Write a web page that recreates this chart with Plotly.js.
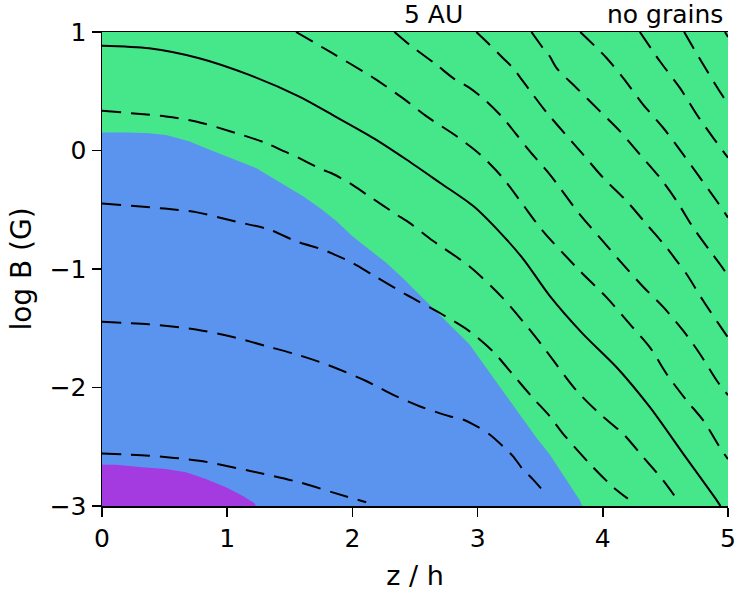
<!DOCTYPE html>
<html><head><meta charset="utf-8">
<script src="https://cdn.plot.ly/plotly-3.0.1.min.js"></script>
<style>html,body{margin:0;padding:0;background:#fff}</style>
</head><body>
<div id="chart" style="width:748px;height:594px"></div>
<script>
// ---- data ----
const xTicks = [0, 1, 2, 3, 4, 5];
const yTicks = [-3, -2, -1, 0, 1];

// regions (boundary, closed along the lower axis)
const blueX = [0, 0.2, 0.376, 0.51, 0.6, 0.7, 0.83, 0.966, 1.1, 1.234, 1.336, 1.47, 1.606, 1.74, 1.874, 2.0, 2.136, 2.27, 2.402, 2.536, 2.67, 2.802, 2.936, 3.07, 3.202, 3.336, 3.47, 3.576, 3.70, 3.816, 3.835, 0];
const blueY = [0.152, 0.152, 0.145, 0.13, 0.105, 0.075, 0.02, -0.035, -0.09, -0.15, -0.215, -0.303, -0.387, -0.485, -0.597, -0.724, -0.836, -0.948, -1.077, -1.217, -1.358, -1.498, -1.638, -1.835, -2.032, -2.228, -2.425, -2.565, -2.77, -2.952, -3.0, -3.0];
const purpleX = [0, 0.11, 0.32, 0.51, 0.67, 0.83, 0.99, 1.122, 1.216, 1.23, 0];
const purpleY = [-2.652, -2.652, -2.674, -2.688, -2.716, -2.773, -2.842, -2.913, -2.975, -3.0, -3.0];

// solid contour
const solidX = [0, 0.376, 0.776, 1.176, 1.576, 1.84, 2.168, 2.434, 2.702, 2.968, 3.182, 3.368, 3.576, 3.843, 4.11, 4.376, 4.643, 4.91, 4.94];
const solidY = [0.885, 0.863, 0.779, 0.638, 0.455, 0.301, 0.105, -0.078, -0.274, -0.471, -0.695, -0.92, -1.226, -1.549, -1.829, -2.166, -2.56, -2.952, -3.0];

// dashed contours starting at the left edge
const l1X = [0, 0.376, 0.776, 1.176, 1.576, 1.842, 2.11];
const l1Y = [-2.556, -2.576, -2.618, -2.703, -2.80, -2.885, -2.969];
const l2X = [0, 0.376, 0.75, 1.07, 1.31, 1.55, 1.79, 2.11, 2.322, 2.536, 2.776, 2.882, 2.99, 3.096, 3.202, 3.282, 3.362, 3.442, 3.536];
const l2Y = [-1.446, -1.467, -1.51, -1.58, -1.65, -1.72, -1.804, -1.945, -2.06, -2.158, -2.242, -2.27, -2.326, -2.396, -2.495, -2.579, -2.691, -2.775, -2.888];
const l3X = [0, 0.5, 0.75, 1.07, 1.336, 1.55, 1.762, 1.856, 2.0, 2.162, 2.43, 2.722, 2.936, 3.122, 3.282, 3.442, 3.576, 3.683, 3.896, 4.082, 4.2];
const l3Y = [-0.448, -0.49, -0.52, -0.60, -0.667, -0.766, -0.836, -0.878, -0.948, -1.049, -1.217, -1.386, -1.526, -1.695, -1.891, -2.088, -2.242, -2.391, -2.644, -2.84, -2.938];
const l4X = [0, 0.51, 0.75, 1.07, 1.31, 1.456, 1.52, 1.762, 1.83, 1.976, 2.136, 2.35, 2.456, 2.643, 2.936, 3.202, 3.47, 3.79, 3.976, 4.162, 4.322, 4.482, 4.59];
const l4Y = [0.335, 0.287, 0.245, 0.147, 0.063, -0.008, -0.036, -0.162, -0.19, -0.274, -0.387, -0.539, -0.611, -0.762, -0.979, -1.246, -1.583, -2.026, -2.223, -2.391, -2.587, -2.784, -2.94];

// dashed contours starting at the top edge
const t1X = [1.55, 1.84, 2.11, 2.19, 2.40, 2.59, 2.83, 3.02, 3.2, 3.36, 3.52, 3.816, 4.03, 4.216, 4.376, 4.51, 4.67, 4.802, 4.95, 5.0];
const t1Y = [1.0, 0.821, 0.652, 0.598, 0.444, 0.29, 0.122, -0.033, -0.229, -0.454, -0.678, -1.015, -1.24, -1.465, -1.661, -1.886, -2.11, -2.278, -2.531, -2.604];
const t2X = [2.336, 2.456, 2.67, 2.802, 2.936, 3.07, 3.202, 3.31, 3.416, 3.576, 3.816, 3.976, 4.136, 4.322, 4.482, 4.642, 4.776, 4.91, 5.0];
const t2Y = [1.0, 0.893, 0.725, 0.613, 0.528, 0.416, 0.276, 0.135, -0.005, -0.202, -0.539, -0.735, -0.931, -1.15, -1.32, -1.52, -1.717, -1.941, -2.065];
const t3X = [2.99, 3.096, 3.202, 3.282, 3.362, 3.442, 3.522, 3.576, 3.656, 3.842, 4.002, 4.19, 4.35, 4.51, 4.59, 4.67, 4.802, 4.962, 5.0];
const t3Y = [1.0, 0.893, 0.781, 0.697, 0.585, 0.472, 0.36, 0.29, 0.192, -0.033, -0.229, -0.426, -0.623, -0.819, -0.931, -1.044, -1.268, -1.52, -1.577];
const t4X = [3.43, 3.522, 3.576, 3.63, 3.79, 3.976, 4.136, 4.296, 4.456, 4.59, 4.722, 4.856, 4.936, 5.0];
const t4Y = [1.0, 0.865, 0.795, 0.697, 0.528, 0.332, 0.164, -0.033, -0.229, -0.426, -0.651, -0.847, -0.96, -1.055];
const t5X = [3.82, 4.03, 4.162, 4.322, 4.482, 4.642, 4.776, 4.91, 5.0];
const t5Y = [1.0, 0.781, 0.613, 0.388, 0.192, -0.033, -0.229, -0.426, -0.566];
const t6X = [4.296, 4.456, 4.616, 4.75, 4.882, 5.0];
const t6Y = [1.0, 0.753, 0.528, 0.304, 0.107, -0.061];
const t7X = [4.65, 4.802, 4.95, 5.0];
const t7Y = [1.0, 0.725, 0.472, 0.394];
const t8X = [4.976, 5.0];
const t8Y = [1.0, 0.958];

const labelDist = "5 AU";
const labelCase = "no grains";
const xTitle = "z / h";
const yTitle = "log B (G)";

// ---- styles ----
const GREEN = "#46E68A";
const BLUE = "#5A94EE";
const PURPLE = "#A43BE0";
const FONT = "DejaVu Sans";

function region(x, y, color) {
  return {type: "scatter", mode: "lines", x: x, y: y, fill: "toself", fillcolor: color,
          line: {width: 0, color: color}, hoverinfo: "skip", showlegend: false};
}
function contour(x, y, dashed) {
  return {type: "scatter", mode: "lines", x: x, y: y,
          line: {color: "black", width: 2, shape: "spline", smoothing: 0.8,
                 dash: dashed ? "19px,10px" : "solid"},
          hoverinfo: "skip", showlegend: false};
}

const traces = [
  region(blueX, blueY, BLUE),
  region(purpleX, purpleY, PURPLE),
  contour(l1X, l1Y, true),
  contour(l2X, l2Y, true),
  contour(l3X, l3Y, true),
  contour(l4X, l4Y, true),
  contour(solidX, solidY, false),
  contour(t1X, t1Y, true),
  contour(t2X, t2Y, true),
  contour(t3X, t3Y, true),
  contour(t4X, t4Y, true),
  contour(t5X, t5Y, true),
  contour(t6X, t6Y, true),
  contour(t7X, t7Y, true),
  contour(t8X, t8Y, true)
];

const layout = {
  width: 748, height: 594,
  margin: {l: 102, r: 20, t: 32, b: 88, pad: 0},
  paper_bgcolor: "white",
  plot_bgcolor: GREEN,
  font: {family: FONT, color: "black", size: 25},
  showlegend: false,
  xaxis: {
    range: [0, 5], tickvals: xTicks, showgrid: false, zeroline: false,
    showline: true, mirror: true, linecolor: "black", linewidth: 1.5,
    ticks: "outside", ticklen: 9, tickwidth: 1.5, tickcolor: "black",
    tickfont: {family: FONT, size: 25, color: "black"},
    title: {text: xTitle, font: {family: FONT, size: 27, color: "black"}, standoff: 14}
  },
  yaxis: {
    range: [-3, 1], tickvals: yTicks, showgrid: false, zeroline: false,
    showline: true, mirror: false, linecolor: "black", linewidth: 1.5,
    ticks: "outside", ticklen: 9, tickwidth: 1.5, tickcolor: "black",
    tickfont: {family: FONT, size: 25, color: "black"},
    title: {text: yTitle, font: {family: FONT, size: 28, color: "black"}, standoff: 10}
  },
  annotations: [
    {text: labelDist, xref: "paper", yref: "paper", x: 0.530, y: 1, xanchor: "center", yanchor: "bottom",
     showarrow: false, font: {family: FONT, size: 25, color: "black"}, yshift: 1},
    {text: labelCase, xref: "paper", yref: "paper", x: 0.995, y: 1, xanchor: "right", yanchor: "bottom",
     showarrow: false, font: {family: FONT, size: 25, color: "black"}, yshift: 1}
  ]
};

Plotly.newPlot("chart", traces, layout, {displayModeBar: false, staticPlot: true});
</script>
</body></html>
